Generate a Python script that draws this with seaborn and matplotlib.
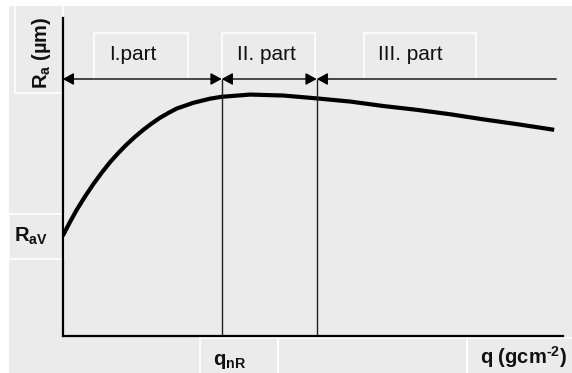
import matplotlib
matplotlib.use("Agg")
import matplotlib.pyplot as plt
from matplotlib.patches import Rectangle
import seaborn as sns

# ---- data (arbitrary units) ----
q_values = [0.0, 0.046, 0.146, 0.28, 0.446, 0.612, 0.78, 0.946, 1.112, 1.28, 1.446,
            1.612, 1.78, 1.946, 2.112, 2.28, 2.612, 2.946, 3.18, 3.75, 4.41, 5.08,
            5.75, 6.41, 7.08, 7.75, 8.41, 9.08, 9.83]
ra_values = [3.14, 3.28, 3.58, 3.96, 4.38, 4.77, 5.13, 5.46, 5.75, 6.02, 6.26,
             6.48, 6.68, 6.86, 7.01, 7.15, 7.33, 7.46, 7.52, 7.59, 7.56, 7.47,
             7.37, 7.23, 7.11, 6.97, 6.81, 6.66, 6.48]
part_bounds = [0.0, 3.18, 5.08, 9.87]   # x positions of part borders
arrow_level = 8.08                       # height of the part arrows
part_labels = ["I.part", "II. part", "III. part"]
y_label = r"R$_{a}$ (µm)"
x_label = r"q (gcm$^{\text{-}2}$)"
rav_label = r"R$_{aV}$"
qnr_label = r"q$_{nR}$"

sns.set_theme(style="white")
plt.rcParams["font.family"] = ["Liberation Sans", "DejaVu Sans"]
plt.rcParams["mathtext.fontset"] = "custom"
plt.rcParams["mathtext.rm"] = "Liberation Sans:bold"
plt.rcParams["mathtext.it"] = "Liberation Sans:bold"
plt.rcParams["mathtext.bf"] = "Liberation Sans:bold"
plt.rcParams["mathtext.default"] = "rm"

W, H = 572, 373
fig = plt.figure(figsize=(W / 100, H / 100), dpi=100, facecolor="white")

def fx(px):
    return px / W

def fy(py):
    return 1 - py / H

GRAY = "#EBEBEB"
# gray panel
fig.patches.append(Rectangle((fx(9), 0), 1 - fx(9), fy(6), transform=fig.transFigure,
                             facecolor=GRAY, edgecolor="none", zorder=-3))
# white-edged label cells (px: x0, y0, x1, y1)
cells = [(15, 3, 62.5, 93), (94, 33, 188, 79), (221.7, 33, 315, 79), (364, 33, 476, 79),
         (9, 214, 64, 259), (200, 337.5, 277.5, 380), (277.5, 337.5, 467, 380),
         (467, 337.5, 580, 380)]
for x0, y0, x1, y1 in cells:
    fig.patches.append(Rectangle((fx(x0), fy(y1)), fx(x1) - fx(x0), fy(y0) - fy(y1),
                                 transform=fig.transFigure, facecolor="none",
                                 edgecolor="white", linewidth=1.2, zorder=-2))

ax = fig.add_axes([fx(62.7), fy(335.7), fx(562.7) - fx(62.7), fy(18) - fy(335.7)])
ax.patch.set_facecolor("none")
ax.set_zorder(1)
for s in ["top", "right"]:
    ax.spines[s].set_visible(False)
for s in ["left", "bottom"]:
    ax.spines[s].set_color("black")
    ax.spines[s].set_linewidth(1.6)

sns.lineplot(x=q_values, y=ra_values, color="black", linewidth=3.0, ax=ax,
             solid_capstyle="butt")
ax.set_xlim(0, 10)
ax.set_ylim(0, 10)
ax.set_xticks([])
ax.set_yticks([])
ax.set_xlabel("")
ax.set_ylabel("")

# part borders
ax.vlines(part_bounds[1:3], 0, arrow_level, colors="#222222", linewidth=1.0, zorder=2)

# part arrows
for i in range(3):
    style = "<|-|>" if i < 2 else "<|-"
    ax.annotate("", xy=(part_bounds[i + 1], arrow_level), xytext=(part_bounds[i], arrow_level),
                arrowprops=dict(arrowstyle=f"{style},head_length=0.55,head_width=0.3",
                                color="black", lw=1.0, shrinkA=0, shrinkB=0,
                                mutation_scale=12),
                annotation_clip=False)

# texts
part_centers_px = [132.5, 266, 410.5]
for lab, cx in zip(part_labels, part_centers_px):
    fig.text(fx(cx), fy(59.5), lab, ha="center", va="baseline", fontsize=15,
             color="#111111")

fig.text(fx(41.5), fy(52.5), y_label, rotation=90, ha="center", va="center",
         fontsize=14.5, fontweight="bold", color="#111111")
fig.text(fx(14), fy(241.7), rav_label, ha="left", va="baseline", fontsize=14.5,
         fontweight="bold", color="#111111")
fig.text(fx(213), fy(365), qnr_label, ha="left", va="baseline", fontsize=14.5,
         fontweight="bold", color="#111111")
fig.text(fx(480), fy(363.3), x_label, ha="left", va="baseline", fontsize=14.5,
         fontweight="bold", color="#111111")

fig.savefig("out.png", dpi=100, facecolor="white")
